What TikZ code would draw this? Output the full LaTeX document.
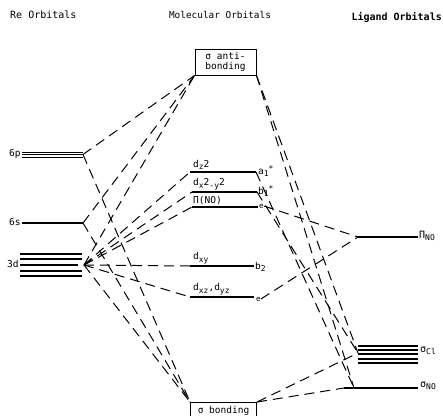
\documentclass[tikz,border=0pt]{standalone}
\usepackage{fontspec}
\setmainfont{DejaVu Sans Mono}
\newcommand\sbx[1]{\raisebox{-2.4pt}{\fontsize{8}{8}\selectfont #1}}
\newcommand\spx[1]{\raisebox{3.5pt}{\fontsize{8}{8}\selectfont #1}}
\begin{document}
\begin{tikzpicture}[x=1pt,y=-1pt,
 lvl/.style={line width=1.3pt},
 conn/.style={dash pattern=on 10pt off 6pt, line width=1pt},
 lab/.style={inner sep=0pt, font=\fontsize{9.5}{10}\selectfont},
 ttl/.style={inner sep=0pt, font=\fontsize{10}{12}\selectfont},
 boxn/.style={draw, line width=1pt, inner sep=0pt, align=center, font=\fontsize{9.5}{10.5}\selectfont}]
\useasboundingbox (0,0) rectangle (443,415);
% titles
\node[ttl, anchor=west] (tRe) at (10,15) {Re Orbitals};
\node[ttl, font=\fontsize{9.4}{12}\selectfont] (tMO) at (220,15) {Molecular Orbitals};
\node[ttl, anchor=east, font=\fontsize{10}{12}\selectfont\bfseries] (tL) at (442,17) {Ligand Orbitals};
% boxes
\node[boxn, minimum width=61pt, minimum height=26pt] (anti) at (225.5,62) {σ anti-\\bonding};
\node[boxn, minimum width=66pt, minimum height=17pt, anchor=north west] (bond) at (190,402) {σ bonding};
% Re orbitals
\node[lab, anchor=west] (l6p) at (9,154) {6p};
\foreach \yy in {152,154.5,157} \draw[line width=1pt] (22,\yy) -- (83,\yy);
\coordinate (p6) at (83,154.5);
\node[lab, anchor=west] (l6s) at (9,222) {6s};
\draw[lvl] (22,223) -- (83,223);
\coordinate (s6) at (83,223);
\node[lab, anchor=west] (l3d) at (7,264) {3d};
\foreach \yy in {254,259,271,276} \draw[line width=1.1pt] (20,\yy) -- (82,\yy);
\draw[line width=1.1pt] (20,265) -- (78,265);
\coordinate (d3) at (84,265);
% molecular orbitals
\draw[lvl] (190,172) coordinate (dzL) -- (256,172) coordinate (dzR);
\node[lab, anchor=south west] (dzT) at (193,170) {d\sbx{z}2};
\node[lab, anchor=west] (a1) at (258,171) {a\sbx{1}\spx{*}};
\draw[lvl] (192,192) coordinate (dxL) -- (257,192) coordinate (dxR);
\node[lab, anchor=south west] (dxT) at (193,190) {d\sbx{x}2\sbx{-y}2};
\node[lab, anchor=west] (b1) at (258,191) {b\sbx{1}\spx{*}};
\draw[lvl] (192,207) coordinate (piL) -- (258,207) coordinate (piR);
\node[lab, anchor=south west] (piT) at (193,205) {Π(NO)};
\node[lab, anchor=west, font=\fontsize{7.5}{8}\selectfont] (e1) at (259,206) {e};
\draw[lvl] (190,266) coordinate (xyL) -- (254,266) coordinate (xyR);
\node[lab, anchor=south west] (xyT) at (193,264) {d\sbx{xy}};
\node[lab, anchor=west] (b2) at (255,267) {b\sbx{2}};
\draw[lvl] (190,297) coordinate (xzL) -- (254,297) coordinate (xzR);
\node[lab, anchor=south west] (xzT) at (193,295) {d\sbx{xz},d\sbx{yz}};
\node[lab, anchor=west, font=\fontsize{7.5}{8}\selectfont] (e2) at (256,299) {e};
% ligand orbitals
\coordinate (pV) at (358,237);
\draw[lvl] (pV) -- (418,237);
\node[lab, anchor=west, font=\fontsize{10}{11}\selectfont] (lpi) at (419,236) {Π\sbx{NO}};
\foreach \yy in {346,350,354,359,363} \draw[lvl] (358,\yy) -- (418,\yy);
\coordinate (sCl) at (358,353);
\node[lab, anchor=west, font=\fontsize{10}{11}\selectfont] (lcl) at (420,351) {σ\sbx{Cl}};
\draw[lvl] (344,388) -- (418,388);
\coordinate (sNOl) at (344,388);
\coordinate (sNOt) at (354,388);
\node[lab, anchor=west, font=\fontsize{10}{11}\selectfont] (lno) at (420,386) {σ\sbx{NO}};
% connectors: metal side
\draw[conn] (p6) -- (anti.south west);
\draw[conn] (p6) -- (bond.north west);
\draw[conn] (s6) -- (anti.south west);
\draw[conn] (s6) -- (bond.north west);
\draw[conn] (d3) -- (anti.south west);
\draw[conn] (d3) -- (bond.north west);
\draw[conn] (d3) -- (dzL);
\draw[conn] (d3) -- (dxL);
\draw[conn] (d3) -- (piL);
\draw[conn] (d3) -- (xyL);
\draw[conn] (d3) -- (xzL);
% connectors: ligand side
\draw[conn] (anti.south east) -- (sCl);
\draw[conn] (anti.south east) -- (sNOt);
\draw[conn] (dzR) -- (sNOt);
\draw[conn] (dxR) -- (sCl);
\draw[conn] (e1.east) -- (pV);
\draw[conn] (e2.east) -- (pV);
\draw[conn] (bond.north east) -- (sCl);
\draw[conn] (bond.north east) -- (sNOl);
\end{tikzpicture}
\end{document}
